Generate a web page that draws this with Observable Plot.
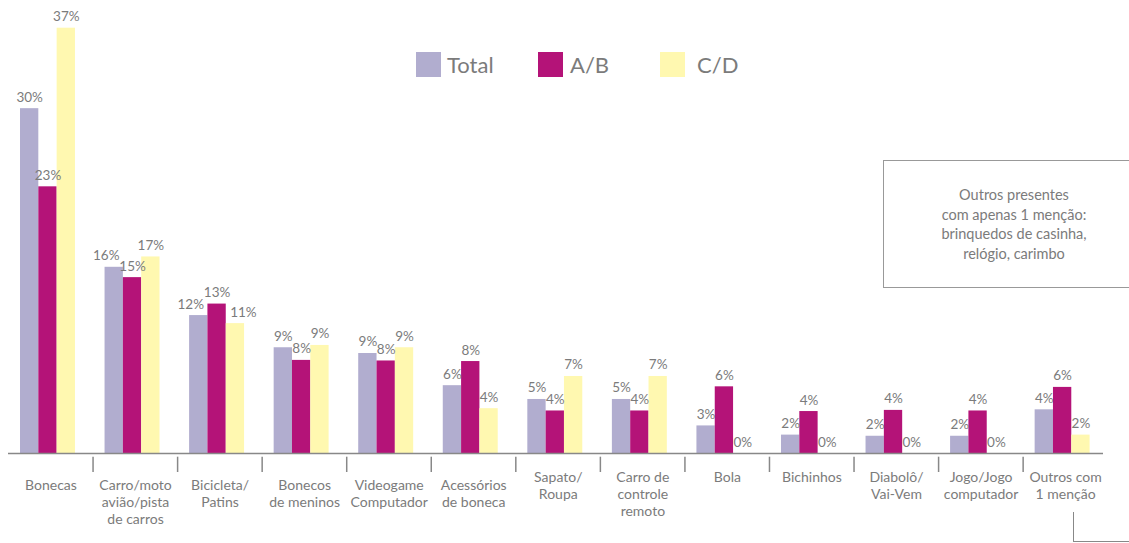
<!DOCTYPE html>
<html><head><meta charset="utf-8">
<script src="https://cdn.jsdelivr.net/npm/d3@7"></script>
<script src="https://cdn.jsdelivr.net/npm/@observablehq/plot@0.6"></script>
<style>
body{margin:0;background:#fff;overflow:hidden;font-family:Lato,"Open Sans",sans-serif;}
#wrap{position:relative;width:1129px;height:543px;overflow:hidden;}
#wrap svg{position:absolute;left:0;top:0;}
.leg{position:absolute;top:52px;height:25px;display:flex;align-items:center;font-size:22px;color:#7b7b7b;white-space:nowrap;}
.sw{display:inline-block;width:25px;height:25px;}
#note{position:absolute;left:883px;top:160px;width:300px;height:128px;border:1.5px solid #999;box-sizing:border-box;}
#note div{position:absolute;left:0;width:260px;top:24px;text-align:center;font-size:14.5px;line-height:19.6px;color:#7b7b7b;}
#conn{position:absolute;left:1073px;top:512px;width:100px;height:29px;border-left:1.5px solid #888;border-bottom:1.5px solid #888;}
</style></head><body><div id="wrap"></div>
<script>
const categories = [
  "Bonecas",
  "Carro/moto\navião/pista\nde carros",
  "Bicicleta/\nPatins",
  "Bonecos\nde meninos",
  "Videogame\nComputador",
  "Acessórios\nde boneca",
  "Sapato/\nRoupa",
  "Carro de\ncontrole\nremoto",
  "Bola",
  "Bichinhos",
  "Diabolô/\nVai-Vem",
  "Jogo/Jogo\ncomputador",
  "Outros com\n1 menção"
];
const series = ["Total", "A/B", "C/D"];
const totalValues = [30.0, 16.2, 12.0, 9.2, 8.7, 5.9, 4.7, 4.7, 2.4, 1.6, 1.5, 1.5, 3.8];
const abValues    = [23.2, 15.3, 13.0, 8.1, 8.05, 8.0, 3.7, 3.7, 5.8, 3.65, 3.75, 3.7, 5.75];
const cdValues    = [37.0, 17.1, 11.3, 9.4, 9.2, 3.9, 6.7, 6.7, 0, 0, 0, 0, 1.6];
const totalLabels = ["30%","16%","12%","9%","9%","6%","5%","5%","3%","2%","2%","2%","4%"];
const abLabels    = ["23%","15%","13%","8%","8%","8%","4%","4%","6%","4%","4%","4%","6%"];
const cdLabels    = ["37%","17%","11%","9%","9%","4%","7%","7%","0%","0%","0%","0%","2%"];
const noteLines = ["Outros presentes", "com apenas 1 menção:", "brinquedos de casinha,", "relógio, carimbo"];
const colors = ["#b1adcf", "#b41378", "#fff8b0"];

const valueSets = [totalValues, abValues, cdValues];
const labelSets = [totalLabels, abLabels, cdLabels];
const rows = [];
categories.forEach((c, i) => series.forEach((s, k) => rows.push({cat: c, idx: i, series: s, k, value: valueSets[k][i], label: labelSets[k][i]})));

// label collision rule: a 3-character label next to a close 3-character A/B label is nudged away
rows.forEach(d => {
  d.nudge = 0;
  if (d.k === 1) return;
  const ab = rows.find(r => r.idx === d.idx && r.k === 1);
  const close = d.label.length === 3 && ab.label.length === 3 && Math.abs(d.value - ab.value) < 1.75;
  if (close) d.nudge = d.k === 0 ? -1 : 1;
});

const W = 1129, H = 543;
const xr = [20, 1089.6], pin = 0.35;
const bw = (xr[1] - xr[0]) / (categories.length - pin) * (1 - pin);
const third = bw / 3;
const textColor = "#7b7b7b";
const font = "Lato, 'Open Sans', sans-serif";

const marks = [];
series.forEach((s, k) => {
  marks.push(Plot.barY(rows.filter(d => d.k === k), {
    x: "cat", y: "value", fill: colors[k],
    insetLeft: k * third, insetRight: (2 - k) * third
  }));
});
series.forEach((s, k) => {
  [-1, 0, 1].forEach(n => {
    const sub = rows.filter(d => d.k === k && d.nudge === n);
    if (!sub.length) return;
    marks.push(Plot.text(sub, {
      x: "cat", y: "value", text: "label", dx: (k - 1) * third + n * 8, dy: -7,
      lineAnchor: "bottom", fill: textColor, fontSize: 13.5, fontFamily: font
    }));
  });
});
marks.push(Plot.ruleY([0], {stroke: "#888", strokeWidth: 1.5}));
marks.push(Plot.ruleX(categories.slice(1), {
  x: d => d, dx: -bw / 2 - 12, dy: 19, insetTop: 453 - 28 - 15,
  stroke: "#888", strokeWidth: 1.5
}));
marks.push(Plot.text(categories.filter((c, i) => i < 6), {
  x: d => d, text: d => d, frameAnchor: "bottom", lineAnchor: "top", dy: 24, dx: 3,
  fill: textColor, fontSize: 14, lineHeight: 1.22, fontFamily: font
}));
marks.push(Plot.text(categories.filter((c, i) => i >= 6), {
  x: d => d, text: d => d, frameAnchor: "bottom", lineAnchor: "top", dy: 16, dx: 3,
  fill: textColor, fontSize: 14, lineHeight: 1.22, fontFamily: font
}));

const chart = Plot.plot({
  width: W, height: H,
  marginLeft: 8, marginRight: 26, marginTop: 27.7, marginBottom: 90,
  style: {fontFamily: font, background: "#fff", overflow: "visible"},
  x: {type: "band", domain: categories, range: xr, paddingInner: pin, paddingOuter: 0, round: false, axis: null},
  y: {domain: [0, 37], axis: null},
  marks
});
const wrap = document.getElementById("wrap");
wrap.appendChild(chart);

const legX = [[416, 447], [538, 570], [660, 697]];
series.forEach((s, k) => {
  const d = document.createElement("div");
  d.className = "leg";
  d.style.left = legX[k][0] + "px";
  const sw = document.createElement("span");
  sw.className = "sw"; sw.style.background = colors[k];
  sw.style.marginRight = (legX[k][1] - legX[k][0] - 25) + "px";
  d.appendChild(sw);
  d.appendChild(document.createTextNode(s));
  wrap.appendChild(d);
});
const note = document.createElement("div");
note.id = "note";
const inner = document.createElement("div");
inner.innerHTML = noteLines.join("<br>");
note.appendChild(inner);
wrap.appendChild(note);
const conn = document.createElement("div");
conn.id = "conn";
wrap.appendChild(conn);
</script>
</body></html>
